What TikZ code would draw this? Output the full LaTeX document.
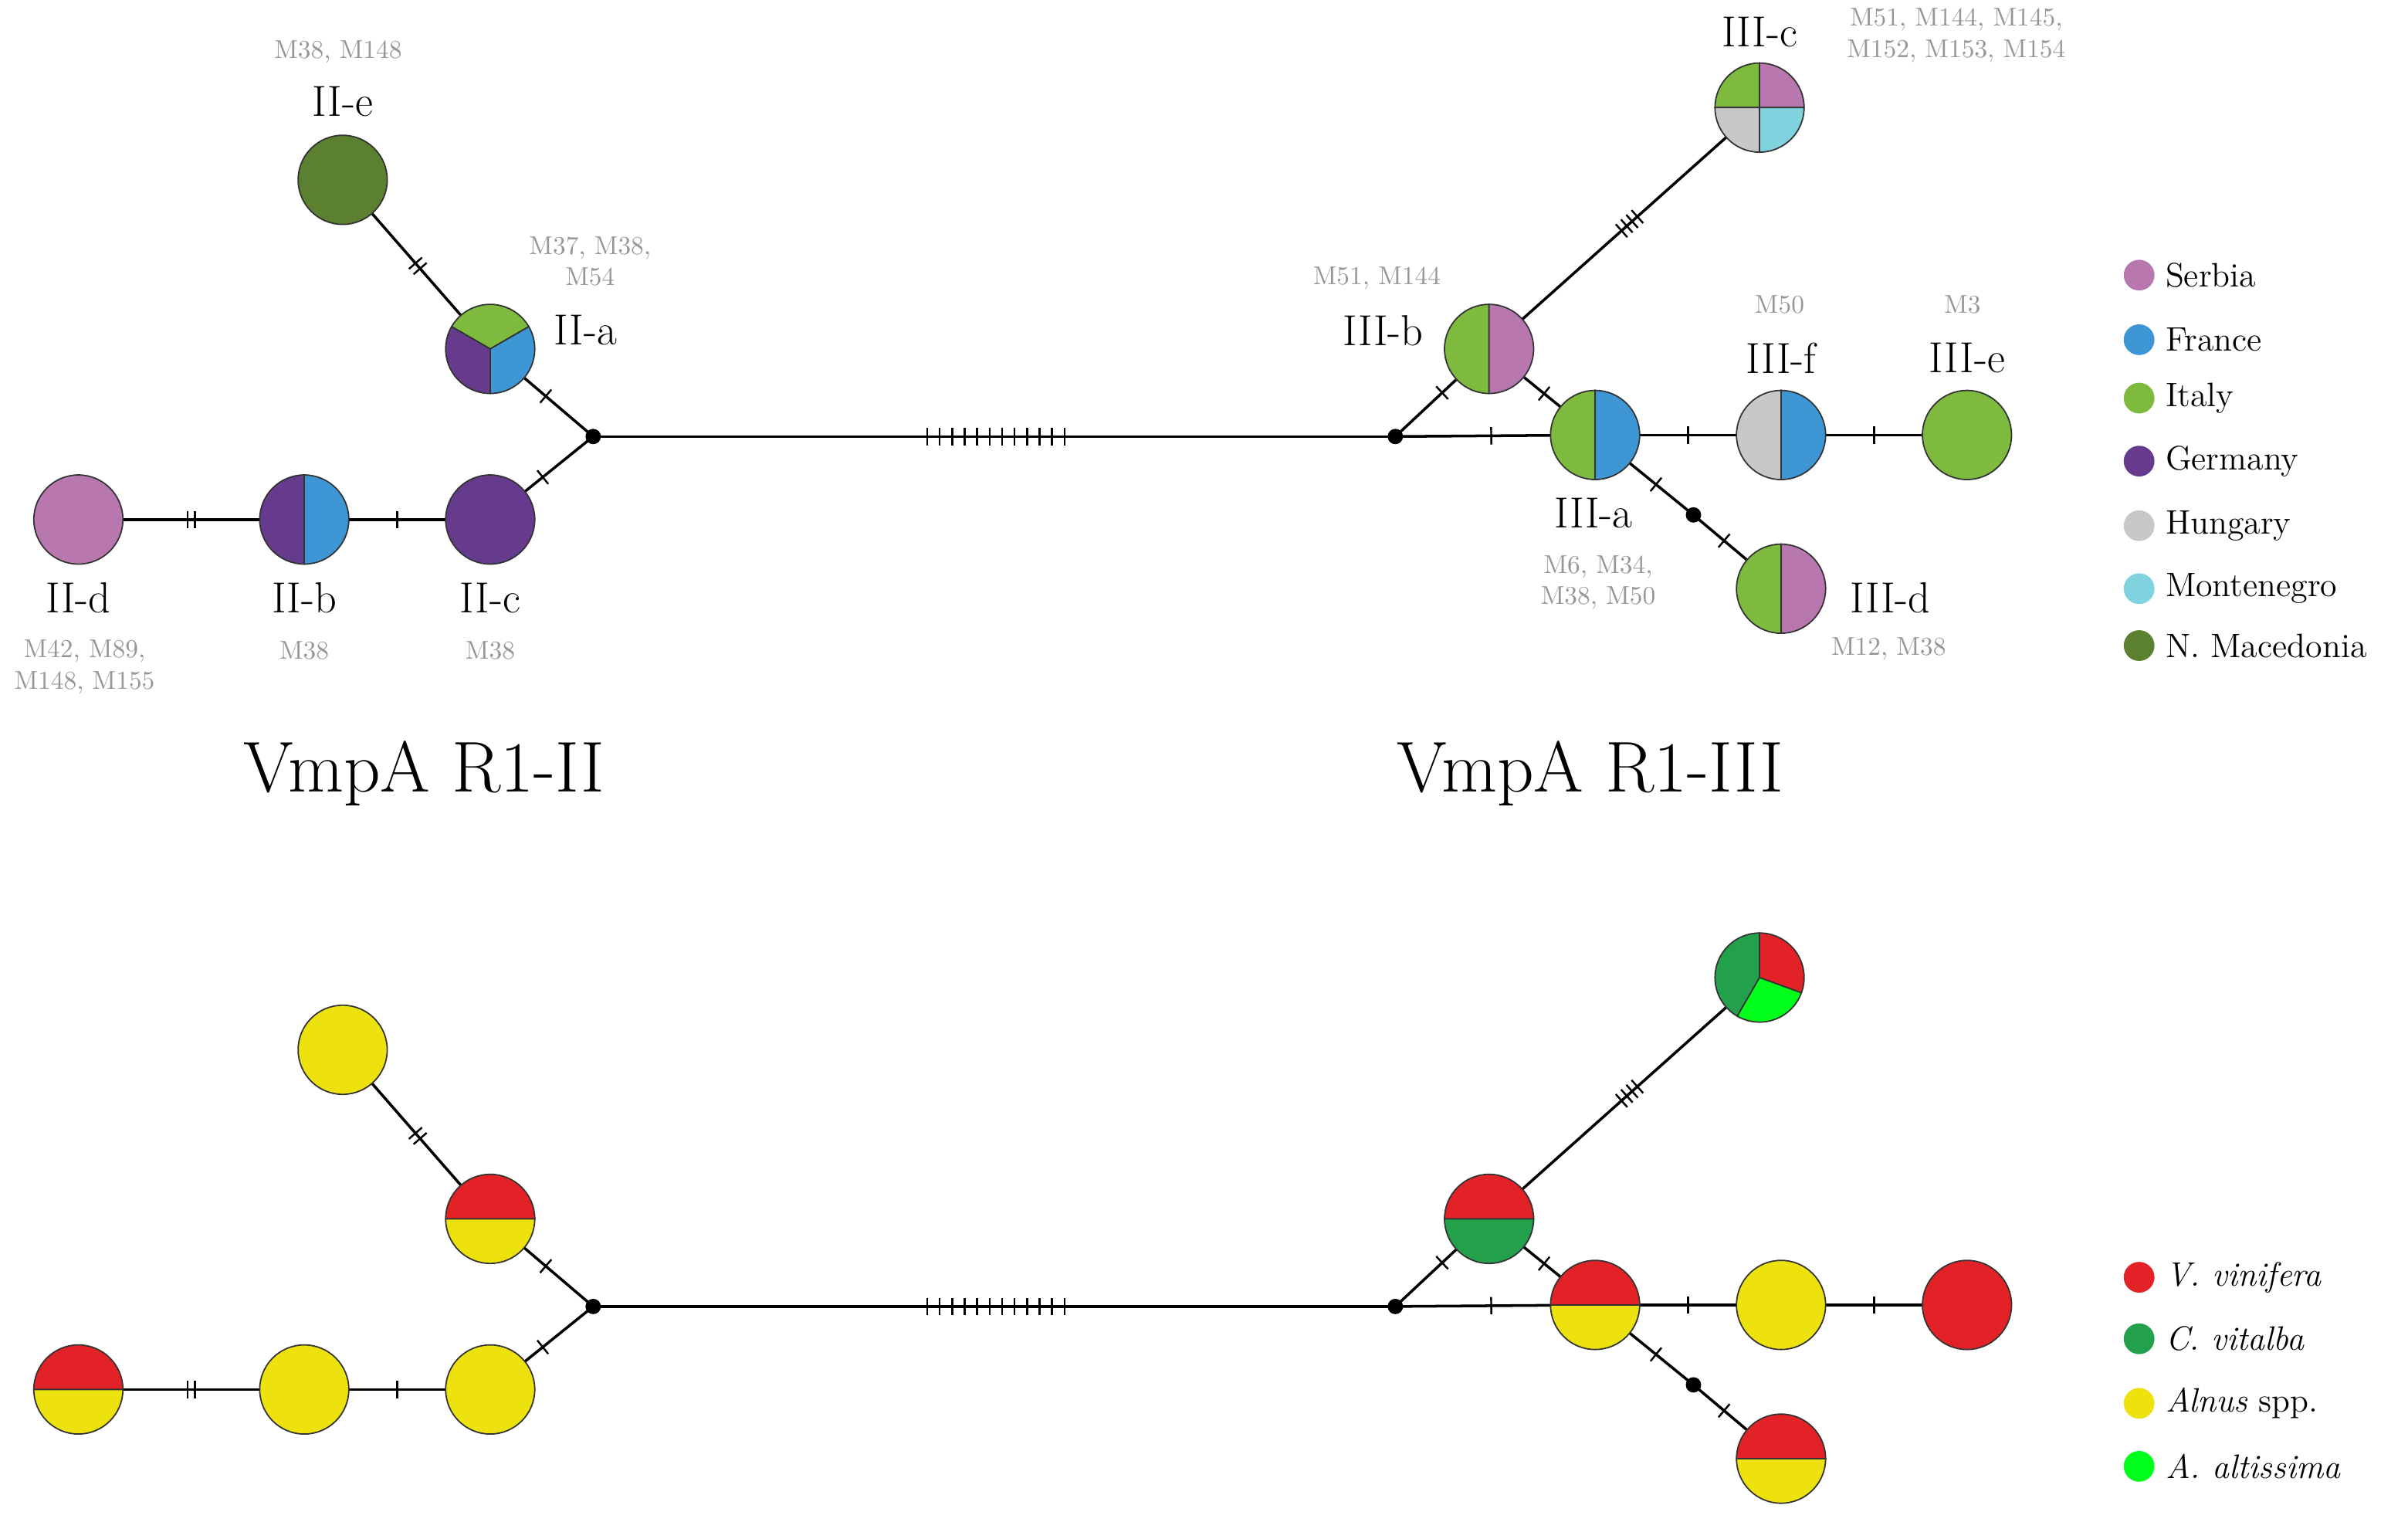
\documentclass[tikz,border=0pt]{standalone}
\usetikzlibrary{decorations.markings}

\definecolor{serbia}{RGB}{185,119,176}
\definecolor{france}{RGB}{62,150,212}
\definecolor{italy}{RGB}{125,186,62}
\definecolor{germany}{RGB}{102,58,140}
\definecolor{hungary}{RGB}{200,200,200}
\definecolor{monte}{RGB}{126,211,223}
\definecolor{maced}{RGB}{91,128,48}
\definecolor{vinif}{RGB}{227,34,39}
\definecolor{vital}{RGB}{34,160,75}
\definecolor{alnus}{RGB}{238,226,14}
\definecolor{altis}{RGB}{0,255,26}
\definecolor{mgray}{RGB}{150,150,150}

\tikzset{
  edge/.style={line width=1pt},
  muts/.style n args={3}{postaction={decorate,decoration={markings,
      mark=at position #1 with {\foreach \k in {1,...,#2}{\draw[line width=0.7pt] ({(\k-(#2+1)/2)*#3},-3.2pt) -- ++(0,6.4pt);}}}}},
  hap/.style={font=\fontsize{16}{18}\selectfont},
  iso/.style={font=\fontsize{9.5}{11.5}\selectfont,text=mgray,align=center},
  legend/.style={font=\fontsize{12.5}{14}\selectfont,anchor=west},
}
% one slice of a haplotype pie
\newcommand{\slice}[4]{\filldraw[fill=#4,draw=black!80,line width=0.5pt] (#1) -- ++(#2:29) arc[start angle=#2,end angle=#3,radius=29] -- cycle;}
\newcommand{\whole}[2]{\filldraw[fill=#2,draw=black!80,line width=0.5pt] (#1) circle (29);}

\begin{document}
\begin{tikzpicture}[x=0.0199cm,y=0.0199cm]
\useasboundingbox (0,0) rectangle (1567,-990);

% both networks share one layout
\foreach \p/\dy in {t/0,b/566}{
  \coordinate (\p IIe) at (223,-117-\dy);
  \coordinate (\p IIa) at (319,-227-\dy);
  \coordinate (\p Ja) at (386,-284-\dy);
  \coordinate (\p IIc) at (319,-338-\dy);
  \coordinate (\p IIb) at (198,-338-\dy);
  \coordinate (\p IId) at (51,-338-\dy);
  \coordinate (\p Jb) at (908,-284-\dy);
  \coordinate (\p IIIb) at (969,-227-\dy);
  \coordinate (\p IIIc) at (1145,-70-\dy);
  \coordinate (\p IIIa) at (1038,-283-\dy);
  \coordinate (\p IIIf) at (1159,-283-\dy);
  \coordinate (\p IIIe) at (1280,-283-\dy);
  \coordinate (\p Jc) at (1102,-335-\dy);
  \coordinate (\p IIId) at (1159,-383-\dy);
  % edges with mutation ticks
  \draw[edge,muts={0.51}{2}{2.6pt}] (\p IIe) -- (\p IIa);
  \draw[edge,muts={0.54}{1}{0pt}] (\p IIa) -- (\p Ja);
  \draw[edge,muts={0.49}{1}{0pt}] (\p Ja) -- (\p IIc);
  \draw[edge,muts={0.5}{1}{0pt}] (\p IIc) -- (\p IIb);
  \draw[edge,muts={0.5}{2}{2.6pt}] (\p IIb) -- (\p IId);
  \draw[edge,muts={0.502}{12}{4.6pt}] (\p Ja) -- (\p Jb);
  \draw[edge,muts={0.5}{1}{0pt}] (\p Jb) -- (\p IIIb);
  \draw[edge,muts={0.52}{4}{2.6pt}] (\p IIIb) -- (\p IIIc);
  \draw[edge,muts={0.52}{1}{0pt}] (\p IIIb) -- (\p IIIa);
  \draw[edge,muts={0.48}{1}{0pt}] (\p Jb) -- (\p IIIa);
  \draw[edge,muts={0.5}{1}{0pt}] (\p IIIa) -- (\p IIIf);
  \draw[edge,muts={0.5}{1}{0pt}] (\p IIIf) -- (\p IIIe);
  \draw[edge,muts={0.62}{1}{0pt}] (\p IIIa) -- (\p Jc);
  \draw[edge,muts={0.35}{1}{0pt}] (\p Jc) -- (\p IIId);
  \foreach \j in {Ja,Jb,Jc} \fill (\p\j) circle (5);
}

% countries
\whole{tIIe}{maced}
\slice{tIIa}{30}{150}{italy}\slice{tIIa}{150}{270}{germany}\slice{tIIa}{-90}{30}{france}
\whole{tIIc}{germany}
\slice{tIIb}{90}{270}{germany}\slice{tIIb}{-90}{90}{france}
\whole{tIId}{serbia}
\slice{tIIIb}{90}{270}{italy}\slice{tIIIb}{-90}{90}{serbia}
\slice{tIIIc}{90}{180}{italy}\slice{tIIIc}{0}{90}{serbia}\slice{tIIIc}{180}{270}{hungary}\slice{tIIIc}{270}{360}{monte}
\slice{tIIIa}{90}{270}{italy}\slice{tIIIa}{-90}{90}{france}
\slice{tIIIf}{90}{270}{hungary}\slice{tIIIf}{-90}{90}{france}
\whole{tIIIe}{italy}
\slice{tIIId}{90}{270}{italy}\slice{tIIId}{-90}{90}{serbia}

% hosts
\whole{bIIe}{alnus}
\slice{bIIa}{0}{180}{vinif}\slice{bIIa}{180}{360}{alnus}
\whole{bIIc}{alnus}
\whole{bIIb}{alnus}
\slice{bIId}{0}{180}{vinif}\slice{bIId}{180}{360}{alnus}
\slice{bIIIb}{0}{180}{vinif}\slice{bIIIb}{180}{360}{vital}
\slice{bIIIc}{-20}{90}{vinif}\slice{bIIIc}{90}{240}{vital}\slice{bIIIc}{240}{340}{altis}
\slice{bIIIa}{0}{180}{vinif}\slice{bIIIa}{180}{360}{alnus}
\whole{bIIIf}{alnus}
\whole{bIIIe}{vinif}
\slice{bIIId}{0}{180}{vinif}\slice{bIIId}{180}{360}{alnus}

% haplotype names
\node[hap] (nIIe) at (223,-66) {II-e};
\node[hap] (nIIa) at (381,-215) {II-a};
\node[hap] (nIId) at (51,-389) {II-d};
\node[hap] (nIIb) at (198,-389) {II-b};
\node[hap] (nIIc) at (319,-389) {II-c};
\node[hap] (nIIIc) at (1145,-21) {III-c};
\node[hap] (nIIIb) at (900,-215) {III-b};
\node[hap] (nIIIf) at (1159,-233) {III-f};
\node[hap] (nIIIe) at (1280,-233) {III-e};
\node[hap] (nIIIa) at (1037,-334) {III-a};
\node[hap] (nIIId) at (1230,-389) {III-d};

% isolates
\node[iso] (iIIe) at (220,-34) {M38, M148};
\node[iso] (iIIa) at (384,-170) {M37, M38,\\M54};
\node[iso] (iIId) at (55,-434) {M42, M89,\\M148, M155};
\node[iso] (iIIb) at (198,-423) {M38};
\node[iso] (iIIc) at (319,-423) {M38};
\node[iso] (iIIIc) at (1273,-23) {M51, M144, M145,\\M152, M153, M154};
\node[iso] (iIIIb) at (896,-181) {M51, M144};
\node[iso] (iIIIf) at (1158,-198) {M50};
\node[iso] (iIIIe) at (1277,-198) {M3};
\node[iso] (iIIIa) at (1040,-379) {M6, M34,\\M38, M50};
\node[iso] (iIIId) at (1229,-422) {M12, M38};

% titles
\node[font=\fontsize{26.5}{30}\selectfont] (titII) at (276,-503) {VmpA R1-II};
\node[font=\fontsize{26.5}{30}\selectfont] (titIII) at (1035,-503) {VmpA R1-III};

% legends
\foreach \y/\c/\t in {179/serbia/Serbia,221/france/France,259/italy/Italy,300/germany/Germany,
    342/hungary/Hungary,383/monte/Montenegro,420/maced/N. Macedonia}{
  \fill[\c] (1392,-\y) circle (10);
  \node[legend] at (1403,-\y) {\t};
}
\foreach \y/\c/\t in {831/vinif/\textit{V. vinifera},871/vital/\textit{C. vitalba},
    913/alnus/\textit{Alnus} spp.,954/altis/\textit{A. altissima}}{
  \fill[\c] (1392,-\y) circle (10);
  \node[legend] at (1403,-\y) {\t};
}
\end{tikzpicture}
\end{document}
